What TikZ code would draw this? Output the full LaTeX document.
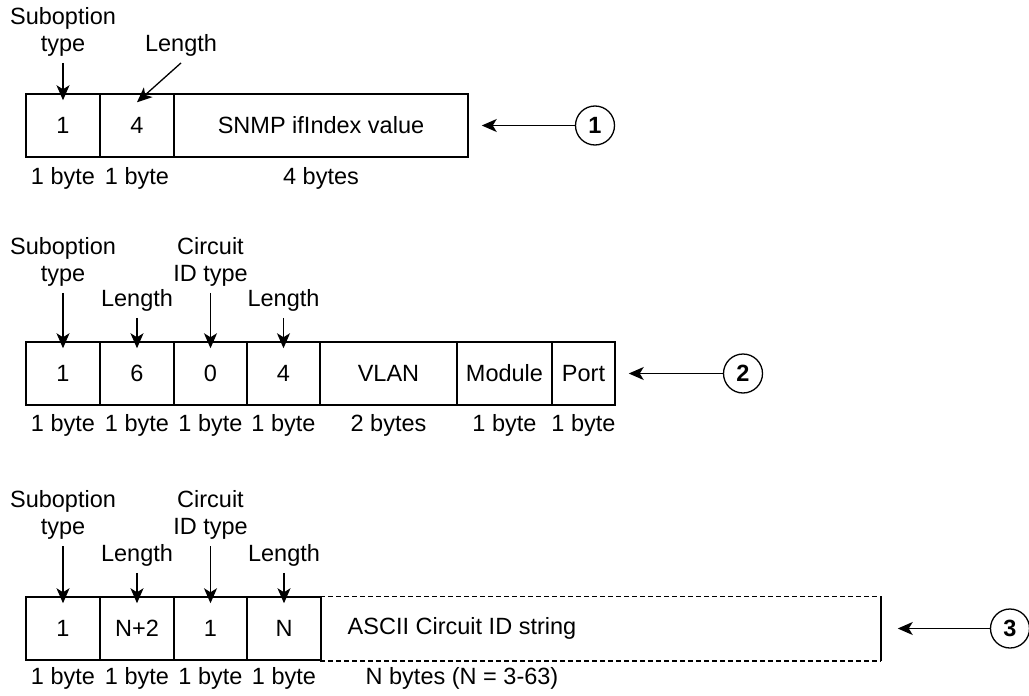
\documentclass[tikz,border=0pt]{standalone}
\usepackage{fontspec}
\setmainfont{Liberation Sans}
\usetikzlibrary{arrows.meta}

\begin{document}
\begin{tikzpicture}[x=1pt,y=-1pt,line width=1.5pt,
    font=\fontsize{23.5}{27}\selectfont,
    cell/.style={draw,rectangle,inner sep=0pt,minimum height=63pt},
    lbl/.style={align=center,inner sep=0pt,outer sep=7pt},
    arr/.style={line width=1.3pt,-{Stealth[length=15pt,width=13pt,inset=4pt]}},
    num/.style={circle,draw,line width=1.3pt,inner sep=0pt,minimum size=39pt,font=\fontsize{23.5}{27}\selectfont\bfseries}]
\useasboundingbox (0,0) rectangle (1029,696);

\foreach \i/\x/\w/\t/\b in {1/63/74/1/1 byte, 2/137/74/4/1 byte, 3/321/294/SNMP ifIndex value/4 bytes}
{
    \node[cell,minimum width=\w pt] (a\i) at (\x,125.5) {\t};
    \node (ab\i) at (\x,178) {\b};
}
\node[lbl] (st1) at (63,31.5) {Suboption\\type};
\node[lbl] (len1) at (181,45) {Length};
\draw[arr] (st1.south) -- ([yshift=-7pt]a1.north);
\draw[arr] (len1.south) -- ([yshift=-9pt]a2.north);
\node[num] (n1) at (595,125.5) {1};
\draw[arr] (n1.west) -- ([xshift=13pt]a3.east);

\foreach \i/\x/\w/\t/\b in {1/63/74/1/1 byte, 2/137/74/6/1 byte, 3/210.5/73/0/1 byte, 4/283.5/73/4/1 byte,
    5/388.5/137/VLAN/2 bytes, 6/504.5/95/Module/1 byte, 7/583.5/63/Port/1 byte}
{
    \node[cell,minimum width=\w pt] (b\i) at (\x,373.5) {\t};
    \node (bb\i) at (\x,425) {\b};
}
\node[lbl] (st2) at (63,261.5) {Suboption\\type};
\node[lbl] (len2) at (137,300) {Length};
\node[lbl] (cid2) at (210.5,261.5) {Circuit\\ID type};
\node[lbl] (len2b) at (283.5,300) {Length};
\draw[arr] (st2.south) -- ([yshift=-7pt]b1.north);
\draw[arr] (len2.south) -- ([yshift=-7pt]b2.north);
\draw[arr] (cid2.south) -- ([yshift=-7pt]b3.north);
\draw[arr] (len2b.south) -- ([yshift=-7pt]b4.north);
\node[num] (n2) at (743,373.5) {2};
\draw[arr] (n2.west) -- ([xshift=13pt]b7.east);

\foreach \i/\x/\w/\t/\b in {1/63/74/1/1 byte, 2/137/74/N+2/1 byte, 3/210.5/73/1/1 byte, 4/284/74/N/1 byte}
{
    \node[cell,minimum width=\w pt] (c\i) at (\x,628.5) {\t};
    \node (cb\i) at (\x,678) {\b};
}
\node[inner sep=0pt,minimum width=559pt,minimum height=63pt] (c5) at (600.5,628.5) {};
\draw[dash pattern=on 5pt off 3pt] (c5.north west) -- (c5.north east);
\draw[dash pattern=on 5pt off 3pt] (c5.south west) -- (c5.south east);
\draw (c5.north east) -- (c5.south east);
\node (ascii) at (462,628.5) {ASCII Circuit ID string};
\node (cb5) at (462,678) {N bytes (N = 3-63)};
\node[lbl] (st3) at (63,515) {Suboption\\type};
\node[lbl] (len3) at (137,555) {Length};
\node[lbl] (cid3) at (210.5,515) {Circuit\\ID type};
\node[lbl] (len3b) at (284,555) {Length};
\draw[arr] (st3.south) -- ([yshift=-7pt]c1.north);
\draw[arr] (len3.south) -- ([yshift=-7pt]c2.north);
\draw[arr] (cid3.south) -- ([yshift=-7pt]c3.north);
\draw[arr] (len3b.south) -- ([yshift=-7pt]c4.north);
\node[num] (n3) at (1010,628.5) {3};
\draw[arr] (n3.west) -- ([xshift=17pt]c5.east);
\end{tikzpicture}
\end{document}
